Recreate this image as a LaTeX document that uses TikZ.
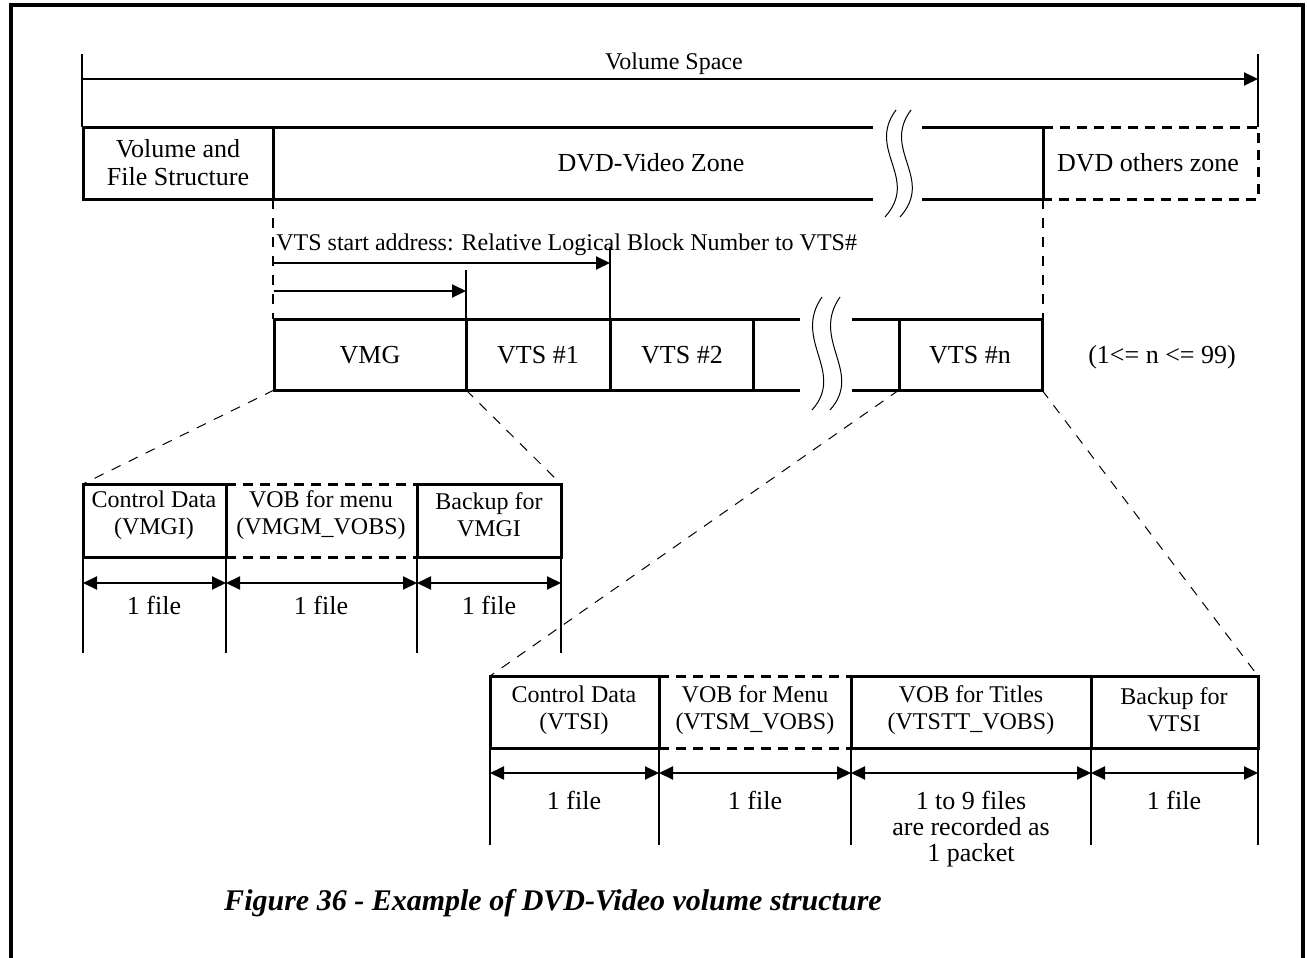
\documentclass[tikz,border=0pt]{standalone}
\usepackage{fontspec}
\setmainfont{Liberation Serif}
\usetikzlibrary{arrows.meta}
\begin{document}
\begin{tikzpicture}[x=0.5pt,y=-0.5pt,
  boxline/.style={line width=1.5pt},
  thinline/.style={line width=1pt},
  dashbox/.style={line width=1.5pt, dash pattern=on 5pt off 3.5pt},
  guide/.style={line width=1.2pt, dash pattern=on 5pt off 4.5pt},
  diag/.style={line width=0.5pt, dash pattern=on 5pt off 4.5pt},
  onetip/.style={-{Triangle[length=7pt,width=6.5pt]}},
  twotip/.style={{Triangle[length=7pt,width=6.5pt]}-{Triangle[length=7pt,width=6.5pt]}},
  lbl/.style={font=\fontsize{13}{14}\selectfont, align=center, inner sep=0pt},
  blbl/.style={font=\fontsize{12}{13.5}\selectfont, align=center, inner sep=0pt},
  slbl/.style={font=\fontsize{12}{14}\selectfont, inner sep=0pt},
  wave/.style={line width=0.5pt}
]
\useasboundingbox (0,0) rectangle (1307,958);
% frame
\draw[line width=2pt] (11,990) -- (11,5) -- (1303,5) -- (1303,990);

% ---------- Volume space ----------
\coordinate (vsL) at (82,79);
\coordinate (vsR) at (1258,79);
\draw[thinline] (82,54) -- (82,127);
\draw[thinline] (1258,54) -- (1258,127);
\draw[thinline,onetip] (vsL) -- (vsR);
\node[slbl] (vs) at (674,64) {Volume Space};

% ---------- top bar ----------
\draw[boxline] (873,127) -- (83,127) -- (83,199) -- (873,199);
\draw[boxline] (922,127) -- (1043,127) -- (1043,199) -- (922,199);
\draw[boxline] (273,127) -- (273,199);
\draw[dashbox] (1043,127) -- (1258,127) -- (1258,199) -- (1043,199);
\draw[wave] (896,110) .. controls (866,150) and (920,178) .. (885,217);
\draw[wave] (911,110) .. controls (881,150) and (935,178) .. (900,217);
\node[lbl] (vfs) at (178,163) {Volume and\\File Structure};
\node[lbl] (dvz) at (651,163) {DVD-Video Zone};
\node[lbl] (doz) at (1148,163) {DVD others zone};

% guides
\coordinate (gA) at (273,199);
\coordinate (gB) at (273,319);
\coordinate (gC) at (1043,199);
\coordinate (gD) at (1043,319);
\draw[guide] (gA) -- (gB);
\draw[guide] (gC) -- (gD);

% VTS start address
\node[slbl,anchor=west] (vtsaddr) at (276,245) {VTS start address: Relative Logical Block Number to VTS\#};
\coordinate (a1s) at (274,263);
\coordinate (a1e) at (610,263);
\coordinate (a2s) at (274,291);
\coordinate (a2e) at (466,291);
\draw[thinline,onetip] (a1s) -- (a1e);
\draw[thinline,onetip] (a2s) -- (a2e);
\draw[thinline] (610,247) -- (610,319);
\draw[thinline] (466,270) -- (466,319);

% ---------- second bar ----------
\draw[boxline] (800,319) -- (274,319) -- (274,390) -- (800,390);
\draw[boxline] (852,319) -- (1042,319) -- (1042,390) -- (852,390);
\foreach \x in {466,610,753,899} \draw[boxline] (\x,319) -- (\x,390);
\draw[wave] (822,297) .. controls (792,340) and (846,372) .. (812,410);
\draw[wave] (840,297) .. controls (810,340) and (864,372) .. (830,410);
\node[lbl] (vmg) at (370,355) {VMG};
\node[lbl] (vts1) at (538,355) {VTS \#1};
\node[lbl] (vts2) at (682,355) {VTS \#2};
\node[lbl] (vtsn) at (970,355) {VTS \#n};
\node[lbl] (range) at (1162,357) {(1<= n <= 99)};

% diagonals
\coordinate (d1a) at (274,390);  \coordinate (d1b) at (83,484);
\coordinate (d2a) at (466,390);  \coordinate (d2b) at (561,484);
\coordinate (d3a) at (899,390);  \coordinate (d3b) at (490,676);
\coordinate (d4a) at (1042,390); \coordinate (d4b) at (1258,676);
\draw[diag] (d1a) -- (d1b);
\draw[diag] (d2a) -- (d2b);
\draw[diag] (d3a) -- (d3b);
\draw[diag] (d4a) -- (d4b);

% ---------- VMG detail ----------
\draw[boxline] (226,484) -- (83,484) -- (83,557) -- (226,557) -- cycle;
\draw[dashbox] (226,484) -- (417,484);
\draw[dashbox] (226,557) -- (417,557);
\draw[boxline] (417,484) -- (561,484) -- (561,557) -- (417,557) -- cycle;
\foreach \x in {83,226,417,561} \draw[thinline] (\x,557) -- (\x,653);
\coordinate (l1) at (83,583);
\coordinate (l2) at (226,583);
\coordinate (l3) at (417,583);
\coordinate (l4) at (561,583);
\draw[thinline,twotip] (l1) -- (l2);
\draw[thinline,twotip] (l2) -- (l3);
\draw[thinline,twotip] (l3) -- (l4);
\node[blbl] (vmgi) at (154,515) {Control Data\\(VMGI)};
\node[blbl] (vmgm) at (321,515) {VOB for menu\\(VMGM\_VOBS)};
\node[blbl] (bvmgi) at (489,515) {Backup for\\VMGI};
\node[lbl] (f1) at (154,605) {1 file};
\node[lbl] (f2) at (321,605) {1 file};
\node[lbl] (f3) at (489,605) {1 file};

% ---------- VTS detail ----------
\draw[boxline] (659,676) -- (490,676) -- (490,748) -- (659,748) -- cycle;
\draw[dashbox] (659,676) -- (851,676);
\draw[dashbox] (659,748) -- (851,748);
\draw[boxline] (851,676) -- (1258,676) -- (1258,748) -- (851,748) -- cycle;
\draw[boxline] (1091,676) -- (1091,748);
\foreach \x in {490,659,851,1091,1258} \draw[thinline] (\x,748) -- (\x,845);
\coordinate (r1) at (490,773);
\coordinate (r2) at (659,773);
\coordinate (r3) at (851,773);
\coordinate (r4) at (1091,773);
\coordinate (r5) at (1258,773);
\draw[thinline,twotip] (r1) -- (r2);
\draw[thinline,twotip] (r2) -- (r3);
\draw[thinline,twotip] (r3) -- (r4);
\draw[thinline,twotip] (r4) -- (r5);
\node[blbl] (vtsi) at (574,710) {Control Data\\(VTSI)};
\node[blbl] (vtsm) at (755,710) {VOB for Menu\\(VTSM\_VOBS)};
\node[blbl] (vtstt) at (971,710) {VOB for Titles\\(VTSTT\_VOBS)};
\node[blbl] (bvtsi) at (1174,710) {Backup for\\VTSI};
\node[lbl] (g1) at (574,800) {1 file};
\node[lbl] (g2) at (755,800) {1 file};
\node[lbl,font=\fontsize{13}{13}\selectfont,anchor=north] (g3) at (971,791) {1 to 9 files\\are recorded as\\1 packet};
\node[lbl] (g4) at (1174,800) {1 file};

% caption
\node[font=\fontsize{15}{18}\selectfont\bfseries\itshape, inner sep=0pt] (cap) at (553,903) {Figure 36 - Example of DVD-Video volume structure};
\end{tikzpicture}
\end{document}
